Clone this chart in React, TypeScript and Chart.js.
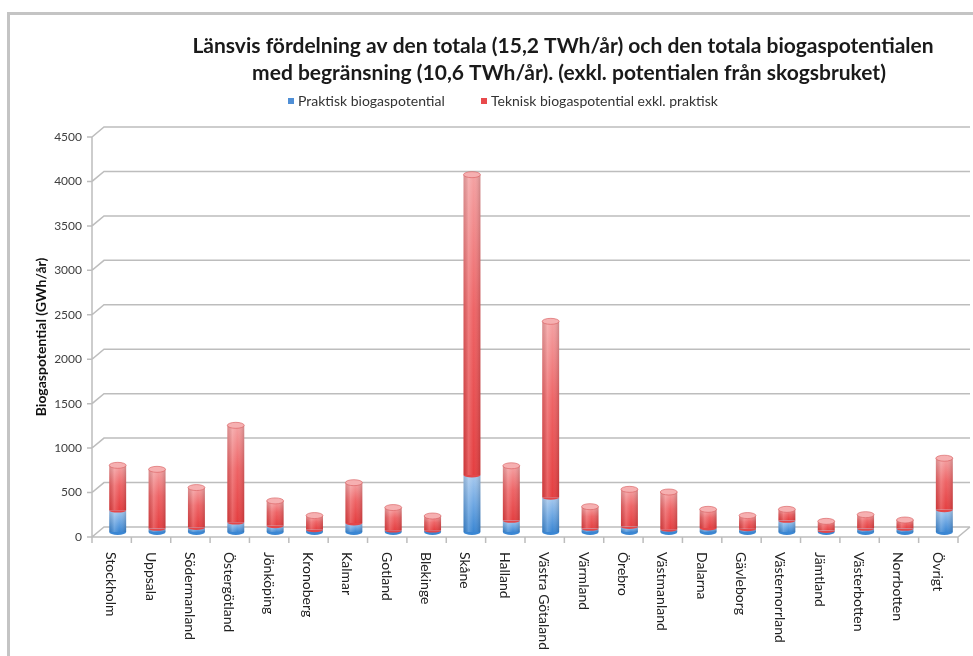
import React, { useEffect, useRef } from 'react';
import { Chart, registerables } from 'chart.js';

Chart.register(...registerables);

const categories = [
  'Stockholm', 'Uppsala', 'Södermanland', 'Östergötland', 'Jönköping', 'Kronoberg',
  'Kalmar', 'Gotland', 'Blekinge', 'Skåne', 'Halland', 'Västra Götaland', 'Värmland',
  'Örebro', 'Västmanland', 'Dalarna', 'Gävleborg', 'Västernorrland', 'Jämtland',
  'Västerbotten', 'Norrbotten', 'Övrigt',
];
const praktisk = [245, 40, 50, 110, 70, 25, 100, 20, 20, 640, 130, 390, 40, 60, 30, 45, 35, 130, 15, 40, 40, 250];
const tekniskExkl = [505, 665, 450, 1090, 280, 160, 455, 255, 160, 3380, 615, 1980, 245, 420, 420, 210, 150, 125, 105, 155, 95, 580];
const yTickValues = [0, 500, 1000, 1500, 2000, 2500, 3000, 3500, 4000, 4500];
const titleLines = [
  'Länsvis fördelning av den totala (15,2 TWh/år) och den totala biogaspotentialen',
  'med begränsning (10,6 TWh/år). (exkl. potentialen från skogsbruket)',
];
const legendLabels = ['Praktisk biogaspotential', 'Teknisk biogaspotential exkl. praktisk'];
const yAxisTitle = 'Biogaspotential (GWh/år)';

const FONT = 'Lato, "Open Sans", sans-serif';
const DX = 12;
const DY = -10;

function segGradient(ctx: any, kind: 'blue' | 'red') {
  const chart = ctx.chart;
  const solid = kind === 'blue' ? '#5b9ee0' : '#ea5557';
  if (!chart.chartArea || ctx.type !== 'data' || ctx.dataIndex === undefined) return solid;
  const i = ctx.dataIndex;
  const ys = chart.scales.y;
  const lo = kind === 'blue' ? 0 : praktisk[i];
  const hi = kind === 'blue' ? praktisk[i] : praktisk[i] + tekniskExkl[i];
  const yTop = ys.getPixelForValue(hi);
  const yBot = ys.getPixelForValue(lo);
  if (!isFinite(yTop) || !isFinite(yBot) || yBot - yTop < 1) return solid;
  const g = chart.ctx.createLinearGradient(0, yTop, 0, yBot);
  if (kind === 'blue') {
    g.addColorStop(0, '#a7c9ee');
    g.addColorStop(0.5, '#6fa8e3');
    g.addColorStop(1, '#3a86d3');
  } else {
    g.addColorStop(0, '#f4a2a3');
    g.addColorStop(0.45, '#ee6466');
    g.addColorStop(1, '#e43e40');
  }
  return g;
}

const decorPlugin = {
  id: 'decor3d',
  beforeDraw(chart: any) {
    const ctx = chart.ctx;
    ctx.save();
    ctx.fillStyle = '#ffffff';
    ctx.fillRect(0, 0, chart.width, chart.height);
    ctx.strokeStyle = '#c4c4c4';
    ctx.lineWidth = 3;
    ctx.beginPath();
    ctx.moveTo(8.5, chart.height);
    ctx.lineTo(8.5, 13.5);
    ctx.lineTo(chart.width, 13.5);
    ctx.stroke();
    ctx.restore();
  },
  beforeDatasetsDraw(chart: any) {
    const ctx = chart.ctx;
    const { left, right, top, bottom } = chart.chartArea;
    const ys = chart.scales.y;
    ctx.save();
    ctx.strokeStyle = '#bdbdbd';
    ctx.lineWidth = 1.5;
    ctx.beginPath();
    for (const v of yTickValues) {
      const y = ys.getPixelForValue(v);
      ctx.moveTo(left - 5, y);
      ctx.lineTo(left, y);
      ctx.lineTo(left + DX, y + DY);
      ctx.lineTo(right + DX, y + DY);
    }
    ctx.moveTo(left, top);
    ctx.lineTo(left, bottom);
    ctx.lineTo(right, bottom);
    ctx.lineTo(right + DX, bottom + DY);
    const n = categories.length;
    for (let i = 0; i <= n; i++) {
      const x = left + (i * (right - left)) / n;
      ctx.moveTo(x, bottom);
      ctx.lineTo(x, bottom + 6);
    }
    ctx.stroke();
    ctx.restore();

    ctx.save();
    ctx.translate(DX / 2, DY / 2);
  },
  afterDatasetsDraw(chart: any) {
    const ctx = chart.ctx;
    const m0 = chart.getDatasetMeta(0);
    const m1 = chart.getDatasetMeta(1);
    for (let i = 0; i < categories.length; i++) {
      const b = m0.data[i] as any;
      const r = m1.data[i] as any;
      if (!b || !r) continue;
      const w = b.width;
      const x0 = b.x - w / 2;
      const ry = 3;
      const g = ctx.createLinearGradient(x0, 0, x0 + w, 0);
      g.addColorStop(0, 'rgba(0,0,0,0.10)');
      g.addColorStop(0.3, 'rgba(255,255,255,0.18)');
      g.addColorStop(0.6, 'rgba(255,255,255,0)');
      g.addColorStop(1, 'rgba(0,0,0,0.16)');
      ctx.fillStyle = g;
      ctx.fillRect(x0, r.y, w, b.base - r.y);
      ctx.beginPath();
      ctx.ellipse(b.x, b.base, w / 2, ry, 0, 0, Math.PI);
      ctx.fillStyle = '#3a86d3';
      ctx.fill();
      ctx.beginPath();
      ctx.ellipse(b.x, b.y, w / 2, ry * 0.8, 0, 0, Math.PI);
      ctx.fillStyle = '#e4474a';
      ctx.fill();
      ctx.beginPath();
      ctx.ellipse(r.x, r.y, w / 2, ry, 0, 0, Math.PI * 2);
      ctx.fillStyle = '#f6b0b1';
      ctx.fill();
      ctx.strokeStyle = 'rgba(215,90,92,0.6)';
      ctx.lineWidth = 1;
      ctx.stroke();
    }
    ctx.restore();
  },
  afterDraw(chart: any) {
    const ctx = chart.ctx;
    const xs = chart.scales.x;
    const { bottom } = chart.chartArea;
    ctx.save();
    ctx.fillStyle = '#1a1a1a';
    ctx.font = `bold 21px ${FONT}`;
    ctx.textAlign = 'center';
    ctx.textBaseline = 'middle';
    ctx.fillText(titleLines[0], 563, 46);
    ctx.fillText(titleLines[1], 569, 73);
    ctx.font = `14px ${FONT}`;
    ctx.textAlign = 'left';
    ctx.fillStyle = '#4f8fd6';
    ctx.fillRect(288, 98, 6, 6);
    ctx.fillStyle = '#333333';
    ctx.fillText(legendLabels[0], 298, 101.5);
    ctx.fillStyle = '#e8494b';
    ctx.fillRect(481, 98, 6, 6);
    ctx.fillStyle = '#333333';
    ctx.fillText(legendLabels[1], 491, 101.5);
    ctx.font = `14px ${FONT}`;
    ctx.fillStyle = '#222222';
    ctx.textAlign = 'left';
    ctx.textBaseline = 'middle';
    for (let i = 0; i < categories.length; i++) {
      const x = xs.getPixelForValue(i);
      ctx.save();
      ctx.translate(x - 1, bottom + 15);
      ctx.rotate(Math.PI / 2);
      ctx.fillText(categories[i], 0, 0);
      ctx.restore();
    }
    ctx.restore();
  },
};

export default function App() {
  const ref = useRef<HTMLCanvasElement | null>(null);
  useEffect(() => {
    if (!ref.current) return;
    const chart = new Chart(ref.current, {
      type: 'bar',
      data: {
        labels: categories,
        datasets: [
          {
            label: legendLabels[0],
            data: praktisk,
            backgroundColor: (c: any) => segGradient(c, 'blue'),
            borderWidth: 0,
            barPercentage: 0.43,
            categoryPercentage: 1,
          },
          {
            label: legendLabels[1],
            data: tekniskExkl,
            backgroundColor: (c: any) => segGradient(c, 'red'),
            borderWidth: 0,
            barPercentage: 0.43,
            categoryPercentage: 1,
          },
        ],
      },
      options: {
        animation: false,
        responsive: false,
        maintainAspectRatio: false,
        layout: { padding: { left: 0, top: 137, right: 15, bottom: 119 } },
        plugins: {
          legend: { display: false },
          title: { display: false },
          tooltip: { enabled: false },
        },
        scales: {
          x: {
            stacked: true,
            grid: { display: false, drawTicks: false },
            border: { display: false },
            ticks: { display: false },
            afterFit: (s: any) => { s.height = 0; },
          },
          y: {
            stacked: true,
            min: 0,
            max: 4500,
            afterBuildTicks: (s: any) => { s.ticks = yTickValues.map((v) => ({ value: v })); },
            grid: { display: false, drawTicks: false },
            border: { display: false },
            ticks: {
              padding: 10,
              color: '#404040',
              font: { family: FONT, size: 12 },
              callback: (v: any) => String(v),
            },
            title: {
              display: true,
              text: yAxisTitle,
              color: '#111111',
              font: { family: FONT, size: 14, weight: 'bold' },
              padding: { top: 33, bottom: 0 },
            },
            afterFit: (s: any) => { s.width = 92; },
          },
        },
      },
      plugins: [decorPlugin],
    });
    return () => chart.destroy();
  }, []);
  return (
    <div style={{ position: 'fixed', left: 0, top: 0, width: 973, height: 656, background: '#fff' }}>
      <canvas ref={ref} width={973} height={656} style={{ display: 'block', width: 973, height: 656 }} />
    </div>
  );
}
